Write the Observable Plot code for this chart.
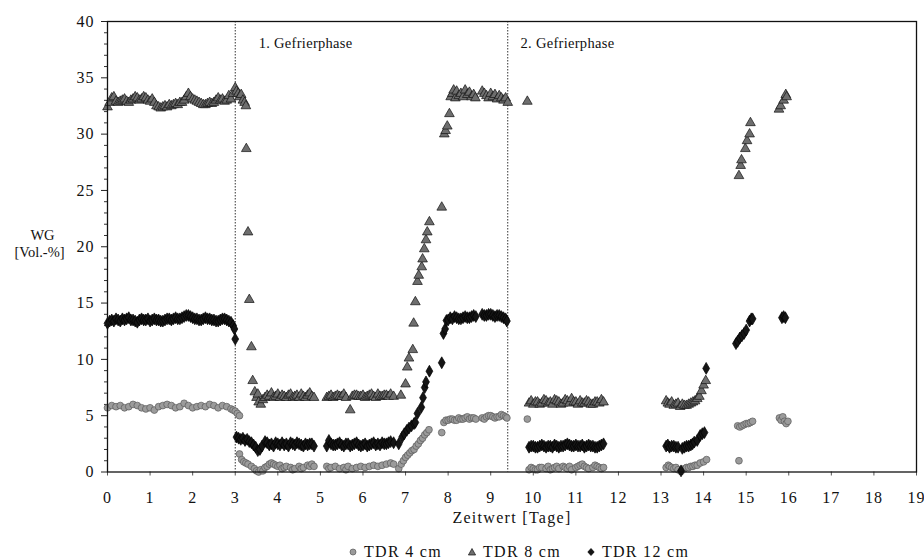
<!DOCTYPE html>
<html>
<head>
<meta charset="utf-8">
<script src="https://cdn.jsdelivr.net/npm/d3@7"></script>
<script src="https://cdn.jsdelivr.net/npm/@observablehq/plot@0.6"></script>
<style>
  html, body { margin: 0; padding: 0; background: #fff; }
  #wrap { position: relative; width: 924px; height: 560px; font-family: "Liberation Serif", "Times New Roman", Tinos, "Noto Serif", "DejaVu Serif", serif; }
  #wrap svg text { font-family: "Liberation Serif", "Times New Roman", Tinos, "Noto Serif", "DejaVu Serif", serif; }
  #legend { position: absolute; left: 348px; top: 543px; display: flex; align-items: center; font-size: 16px; letter-spacing: 1.3px; color: #111; white-space: nowrap; }
  #legend .item { display: flex; align-items: center; margin-right: 25px; }
  #legend svg { margin-right: 6px; }
</style>
</head>
<body>
<div id="wrap"></div>
<script>
// ---- Data (time in days, water content in Vol.-%) ----
const seriesNames = ["TDR 4 cm", "TDR 8 cm", "TDR 12 cm"];

const tdr4 = [
  [0.0,5.7],[0.1,5.9],[0.2,5.8],[0.3,5.9],[0.4,5.7],[0.5,5.8],[0.6,6.0],[0.7,5.9],[0.8,5.7],[0.9,5.6],
  [1.0,5.7],[1.1,5.5],[1.2,5.8],[1.3,5.9],[1.4,6.0],[1.5,5.9],[1.6,5.7],[1.7,5.8],[1.8,6.1],[1.9,5.9],
  [2.0,5.7],[2.1,5.8],[2.2,5.9],[2.3,5.8],[2.4,6.0],[2.5,5.9],[2.6,5.7],[2.7,5.9],[2.8,5.8],[2.9,5.6],
  [2.95,5.5],[3.0,5.4],[3.05,5.2],[3.1,5.0],
  [3.1,1.6],[3.15,1.1],[3.2,0.9],[3.25,0.8],[3.3,0.7],[3.38,0.5],[3.45,0.3],[3.5,0.1],[3.55,0.0],[3.6,0.2],
  [3.65,0.1],[3.7,0.4],[3.75,0.5],[3.8,0.7],[3.85,0.8],[3.9,0.7],[3.95,0.6],[4.0,0.5],[4.05,0.6],[4.1,0.3],
  [4.15,0.4],[4.2,0.5],[4.3,0.4],[4.35,0.2],[4.4,0.3],[4.5,0.5],[4.55,0.3],[4.6,0.4],[4.7,0.6],[4.75,0.5],
  [4.8,0.7],[4.85,0.5],
  [5.15,0.5],[5.2,0.3],[5.25,0.4],[5.35,0.5],[5.45,0.3],[5.55,0.4],[5.6,0.2],[5.65,0.5],[5.75,0.3],[5.85,0.4],
  [5.95,0.5],[6.05,0.4],[6.15,0.5],[6.25,0.6],[6.35,0.5],[6.45,0.6],[6.55,0.7],[6.65,0.8],[6.72,0.7],
  [6.84,0.3],[6.9,0.7],[6.95,1.0],[7.0,1.3],[7.05,1.5],[7.1,1.7],[7.15,1.9],[7.2,2.0],[7.25,2.3],[7.3,2.5],
  [7.35,2.8],[7.4,3.0],[7.45,3.3],[7.5,3.5],[7.55,3.75],
  [7.85,3.5],[7.9,4.4],[7.95,4.6],[8.0,4.6],[8.05,4.7],[8.1,4.7],[8.15,4.6],[8.2,4.6],[8.25,4.8],[8.3,4.7],
  [8.35,4.7],[8.4,4.8],[8.45,4.9],[8.5,4.7],[8.55,4.8],[8.6,4.8],[8.65,4.7],
  [8.8,4.8],[8.85,4.7],[8.9,4.9],[8.95,5.0],[9.0,5.0],[9.05,4.9],[9.1,4.8],[9.15,4.9],[9.2,4.9],[9.25,5.1],
  [9.3,5.0],[9.35,4.9],[9.38,4.8],
  [9.86,4.7],
  [9.9,0.2],[9.95,0.4],[10.0,0.3],[10.05,0.2],[10.1,0.2],[10.15,0.4],[10.2,0.4],[10.3,0.3],[10.35,0.5],[10.4,0.2],
  [10.45,0.3],[10.5,0.4],[10.55,0.5],[10.6,0.3],[10.7,0.5],[10.75,0.4],[10.8,0.3],[10.85,0.5],[10.9,0.2],[11.0,0.4],
  [11.05,0.5],[11.1,0.6],[11.15,0.7],[11.2,0.5],[11.25,0.4],[11.3,0.3],[11.4,0.4],[11.45,0.6],[11.5,0.5],[11.55,0.4],
  [11.6,0.3],[11.65,0.4],
  [13.12,0.4],[13.17,0.6],[13.2,0.5],[13.25,0.4],[13.3,0.3],[13.35,0.4],[13.4,0.2],[13.47,0.05],[13.55,0.3],[13.6,0.4],
  [13.65,0.4],[13.7,0.5],[13.75,0.5],[13.8,0.6],[13.85,0.6],[13.92,0.8],[14.0,0.9],[14.07,1.1],
  [14.83,1.0],
  [14.8,4.1],[14.85,4.0],[14.9,4.1],[14.95,4.2],[15.0,4.3],[15.05,4.3],[15.1,4.4],[15.15,4.5],
  [15.78,4.8],[15.82,4.6],[15.86,4.9],[15.9,4.5],[15.94,4.3],[15.98,4.5]
];

const tdr8 = [
  [0.0,32.4],[0.05,32.8],[0.1,33.2],[0.15,33.3],[0.2,32.9],[0.25,32.8],[0.3,32.9],[0.35,33.0],[0.4,33.1],[0.45,32.9],
  [0.5,32.8],[0.55,33.0],[0.6,33.1],[0.65,33.3],[0.7,33.2],[0.75,33.0],[0.8,33.1],[0.85,33.3],[0.9,33.2],[0.95,33.0],
  [1.0,32.9],[1.05,33.1],[1.1,32.8],[1.15,32.5],[1.2,32.4],[1.25,32.3],[1.3,32.4],[1.35,32.5],[1.4,32.4],[1.45,32.6],
  [1.5,32.5],[1.55,32.6],[1.6,32.7],[1.65,32.6],[1.7,32.8],[1.75,32.8],[1.8,33.0],[1.85,33.3],[1.9,33.6],[1.95,33.3],
  [2.0,33.1],[2.05,33.0],[2.1,32.9],[2.15,32.8],[2.2,32.7],[2.25,32.6],[2.3,32.6],[2.35,32.7],[2.4,32.8],[2.45,32.7],
  [2.5,32.8],[2.55,33.0],[2.6,33.2],[2.65,33.0],[2.7,33.1],[2.75,32.9],[2.8,33.0],[2.85,33.4],[2.9,33.1],[2.95,33.6],
  [3.0,34.1],[3.03,33.8],[3.07,33.6],[3.1,33.3],[3.14,33.5],[3.18,33.0],[3.22,32.8],[3.25,32.5],
  [3.26,28.7],[3.3,21.3],[3.33,15.3],[3.38,11.1],[3.41,8.1],[3.46,7.1],
  [3.5,6.6],[3.53,6.9],[3.55,6.2],[3.6,6.0],[3.65,6.4],[3.7,6.6],[3.75,6.8],[3.8,6.7],[3.85,7.0],[3.9,6.6],
  [3.95,6.7],[4.0,6.9],[4.05,6.6],[4.1,6.8],[4.15,6.7],[4.2,6.6],[4.25,6.8],[4.3,6.9],[4.35,6.6],[4.4,6.7],
  [4.45,6.8],[4.5,6.6],[4.55,6.9],[4.6,6.7],[4.65,6.6],[4.7,6.8],[4.75,7.0],[4.8,6.7],[4.85,6.6],
  [5.15,6.6],[5.2,6.7],[5.25,6.8],[5.3,6.6],[5.35,6.7],[5.4,6.8],[5.45,6.7],[5.5,6.7],[5.55,6.9],[5.6,6.6],
  [5.7,5.5],[5.75,6.7],[5.8,6.8],[5.85,6.8],[5.9,6.7],[5.95,6.7],[6.0,6.8],[6.05,6.6],[6.1,6.7],[6.15,6.8],
  [6.2,6.9],[6.25,6.7],[6.3,6.6],[6.35,6.9],[6.4,6.7],[6.45,6.7],[6.5,6.8],[6.55,6.8],[6.6,6.7],[6.65,6.9],[6.72,6.7],
  [6.89,6.8],[7.0,7.8],[7.04,9.3],[7.08,10.1],[7.17,10.85],[7.19,13.2],[7.23,15.1],[7.28,16.9],[7.31,17.45],[7.38,18.2],
  [7.4,18.9],[7.44,19.8],[7.48,20.6],[7.51,21.3],[7.56,22.2],[7.85,23.5],[7.91,30.0],[7.94,30.3],[7.98,30.7],[8.03,31.8],
  [8.06,33.3],[8.1,33.6],[8.13,33.9],[8.17,33.2],[8.2,33.8],[8.25,33.4],[8.3,33.6],[8.35,33.3],[8.4,33.9],[8.45,33.5],
  [8.5,33.7],[8.55,33.3],[8.6,33.5],[8.64,33.2],
  [8.8,33.8],[8.85,33.6],[8.9,33.4],[8.95,33.2],[9.0,33.6],[9.05,33.3],[9.1,33.5],[9.15,33.1],[9.2,33.4],[9.25,33.2],
  [9.3,33.0],[9.35,33.2],[9.4,32.8],
  [9.86,32.9],
  [9.9,6.1],[9.95,6.3],[10.0,6.0],[10.05,6.2],[10.1,6.2],[10.15,6.0],[10.2,6.1],[10.25,6.4],[10.3,6.3],[10.35,6.1],
  [10.4,6.2],[10.45,6.0],[10.5,6.4],[10.55,6.3],[10.6,6.2],[10.65,6.0],[10.7,6.1],[10.75,6.4],[10.8,6.3],[10.85,6.1],
  [10.9,6.5],[10.95,6.2],[11.0,6.2],[11.05,6.0],[11.1,6.3],[11.15,6.1],[11.2,6.1],[11.25,6.3],[11.3,6.2],[11.35,6.0],
  [11.4,6.0],[11.45,6.2],[11.5,6.2],[11.55,6.1],[11.6,6.4],[11.65,6.2],
  [13.12,6.3],[13.16,6.1],[13.2,6.0],[13.25,6.2],[13.3,5.9],[13.35,6.0],[13.4,6.1],[13.45,5.8],[13.5,6.0],[13.55,5.9],
  [13.6,5.9],[13.65,6.0],[13.7,6.1],[13.75,6.2],[13.8,6.3],[13.85,6.5],[13.9,6.7],[13.95,7.2],[14.0,7.7],[14.05,8.1],
  [14.83,26.3],[14.87,27.2],[14.89,27.7],[14.98,28.7],[15.02,29.4],[15.08,30.0],[15.1,31.0],
  [15.77,32.2],[15.81,32.5],[15.88,33.0],[15.93,33.5],[15.95,33.3]
];

const tdr12 = [
  [0.0,13.2],[0.05,13.4],[0.1,13.5],[0.15,13.4],[0.2,13.6],[0.25,13.5],[0.3,13.4],[0.35,13.6],[0.4,13.5],[0.45,13.6],
  [0.5,13.7],[0.55,13.5],[0.6,13.5],[0.65,13.4],[0.7,13.3],[0.75,13.5],[0.8,13.6],[0.85,13.5],[0.9,13.5],[0.95,13.6],
  [1.0,13.4],[1.05,13.5],[1.1,13.6],[1.15,13.5],[1.2,13.5],[1.25,13.4],[1.3,13.4],[1.35,13.5],[1.4,13.6],[1.45,13.6],
  [1.5,13.5],[1.55,13.6],[1.6,13.7],[1.65,13.6],[1.7,13.6],[1.75,13.7],[1.8,13.8],[1.85,13.9],[1.9,13.9],[1.95,13.8],
  [2.0,13.7],[2.05,13.6],[2.1,13.6],[2.15,13.5],[2.2,13.5],[2.25,13.6],[2.3,13.7],[2.35,13.6],[2.4,13.6],[2.45,13.5],
  [2.5,13.5],[2.55,13.4],[2.6,13.4],[2.65,13.5],[2.7,13.6],[2.75,13.6],[2.8,13.5],[2.85,13.4],[2.9,13.3],[2.95,13.0],
  [2.98,12.7],[3.0,11.8],
  [3.03,3.1],[3.08,3.0],[3.13,2.9],[3.18,3.0],[3.23,2.8],[3.28,2.9],[3.33,2.7],[3.38,2.6],[3.43,2.4],[3.48,2.2],
  [3.53,1.9],[3.58,2.0],[3.63,2.3],[3.7,2.7],[3.75,2.6],[3.8,2.4],[3.85,2.5],[3.9,2.3],[3.95,2.6],[4.0,2.5],
  [4.05,2.4],[4.1,2.6],[4.15,2.4],[4.2,2.5],[4.25,2.3],[4.3,2.6],[4.35,2.5],[4.4,2.4],[4.45,2.6],[4.5,2.5],
  [4.55,2.4],[4.6,2.3],[4.65,2.5],[4.7,2.4],[4.75,2.5],[4.8,2.5],[4.85,2.3],
  [5.15,2.3],[5.2,2.8],[5.25,2.5],[5.3,2.4],[5.35,2.4],[5.4,2.5],[5.45,2.6],[5.5,2.4],[5.55,2.3],[5.6,2.5],
  [5.65,2.5],[5.7,2.3],[5.75,2.4],[5.8,2.5],[5.85,2.6],[5.9,2.4],[5.95,2.3],[6.0,2.4],[6.05,2.5],[6.1,2.3],
  [6.15,2.4],[6.2,2.5],[6.25,2.6],[6.3,2.4],[6.35,2.5],[6.4,2.4],[6.45,2.6],[6.5,2.5],[6.55,2.5],[6.6,2.6],
  [6.65,2.7],[6.72,2.6],
  [6.84,2.5],[6.92,3.1],[6.97,3.4],[7.03,3.7],[7.08,3.9],[7.14,4.1],[7.2,4.3],[7.23,4.4],[7.28,5.2],[7.37,5.75],
  [7.41,6.6],[7.45,7.5],[7.48,8.0],[7.56,8.95],[7.85,9.7],[7.89,12.3],[7.93,12.7],[7.96,13.45],
  [8.0,13.5],[8.05,13.7],[8.1,13.6],[8.15,13.8],[8.2,13.7],[8.25,13.6],[8.3,13.6],[8.35,13.7],[8.4,13.8],[8.45,13.7],
  [8.5,13.7],[8.55,13.8],[8.6,13.9],[8.65,13.8],
  [8.8,14.0],[8.85,13.9],[8.9,13.9],[8.95,14.0],[9.0,14.0],[9.05,13.9],[9.1,13.8],[9.15,13.9],[9.2,13.9],[9.25,13.8],
  [9.3,13.7],[9.35,13.6],[9.38,13.4],
  [9.9,2.2],[9.95,2.3],[10.0,2.3],[10.05,2.2],[10.1,2.2],[10.15,2.3],[10.2,2.4],[10.25,2.3],[10.3,2.2],[10.35,2.3],
  [10.4,2.3],[10.45,2.2],[10.5,2.4],[10.55,2.3],[10.6,2.2],[10.65,2.3],[10.7,2.3],[10.75,2.4],[10.8,2.5],[10.85,2.4],
  [10.9,2.3],[10.95,2.3],[11.0,2.4],[11.05,2.3],[11.1,2.3],[11.15,2.4],[11.2,2.2],[11.25,2.3],[11.3,2.4],[11.35,2.3],
  [11.4,2.3],[11.45,2.2],[11.5,2.2],[11.55,2.3],[11.6,2.4],[11.65,2.5],
  [13.12,2.3],[13.16,2.4],[13.2,2.2],[13.25,2.3],[13.3,2.3],[13.35,2.2],[13.4,2.2],[13.47,0.1],[13.5,2.1],[13.55,2.2],
  [13.6,2.3],[13.65,2.3],[13.7,2.4],[13.74,2.5],[13.78,2.65],[13.85,2.8],[13.92,3.25],[13.97,3.4],[14.02,3.5],[14.06,9.2],
  [14.76,11.4],[14.8,11.6],[14.85,11.9],[14.9,12.1],[14.95,12.3],[15.0,12.6],[15.08,13.4],[15.12,13.6],[15.15,13.6],
  [15.84,13.7],[15.88,13.8],[15.92,13.7]
];

const xTicks = [0,1,2,3,4,5,6,7,8,9,10,11,12,13,14,15,16,17,18,19];
const yTicks = [0,5,10,15,20,25,30,35,40];
const yMinorTicks = [1,2,3,4,6,7,8,9,11,12,13,14,16,17,18,19,21,22,23,24,26,27,28,29,31,32,33,34,36,37,38,39];
const phaseLines = [3.0, 9.4];
const phaseLabels = [
  {x: 3.55, y: 38.1, text: "1. Gefrierphase"},
  {x: 9.7, y: 38.1, text: "2. Gefrierphase"}
];
const xLabel = "Zeitwert [Tage]";
const yLabelLines = ["WG", "[Vol.-%]"];

// ---- Styles per series ----
const styles = {
  "TDR 4 cm":  {symbol: "circle",   fill: "#9b9b9b", stroke: "#5a5a5a", r: 3.4},
  "TDR 8 cm":  {symbol: "triangle", fill: "#6e6e6e", stroke: "#111",    r: 3.6},
  "TDR 12 cm": {symbol: "diamond",  fill: "#151515", stroke: "#000",    r: 3.6}
};

const toRows = (arr, name) => arr.map(([t, v]) => ({t, v, name}));
const rows = {
  "TDR 4 cm": toRows(tdr4, "TDR 4 cm"),
  "TDR 8 cm": toRows(tdr8, "TDR 8 cm"),
  "TDR 12 cm": toRows(tdr12, "TDR 12 cm")
};

const font = '"Liberation Serif", "Times New Roman", Tinos, "Noto Serif", "DejaVu Serif", serif';

const dotMarks = seriesNames.map(n => Plot.dot(rows[n], {
  x: "t", y: "v", symbol: () => styles[n].symbol, r: styles[n].r,
  fill: styles[n].fill, stroke: styles[n].stroke, strokeWidth: 0.7
}));

const chart = Plot.plot({
  width: 924,
  height: 538,
  marginLeft: 107,
  marginRight: 8,
  marginTop: 21,
  marginBottom: 66.5,
  style: {fontFamily: font, fontSize: "15px", color: "#111", background: "white"},
  x: {domain: [0, 19]},
  y: {domain: [0, 40]},
  symbol: {type: "identity"},
  marks: [
    Plot.axisY(yMinorTicks, {tickSize: 3, text: null, stroke: "#333"}),
    Plot.axisY(yTicks, {tickSize: 6, tickPadding: 7, label: null, fontSize: 16, stroke: "#222"}),
    Plot.axisX(xTicks, {tickSize: 4, tickPadding: 16, label: null, fontSize: 16, stroke: "#555"}),
    Plot.ruleX(phaseLines, {stroke: "#333", strokeWidth: 1, strokeDasharray: "1.5,1.5"}),
    Plot.text(phaseLabels, {x: "x", y: "y", text: "text", textAnchor: "start", fontSize: 14.5, fill: "#111"}),
    ...dotMarks,
    Plot.frame({stroke: "#111", strokeWidth: 1.3}),
    Plot.text([xLabel], {frameAnchor: "bottom", dy: 51, fontSize: 16, fill: "#111"}),
    Plot.text([yLabelLines[0]], {frameAnchor: "left", dx: -65, dy: -11, fontSize: 14.5, textAnchor: "middle", fill: "#111"}),
    Plot.text([yLabelLines[1]], {frameAnchor: "left", dx: -68, dy: 6, fontSize: 14.5, textAnchor: "middle", fill: "#111"})
  ]
});

// letter spacing to match the wide, scanned serif type
d3.select(chart).selectAll("text").each(function() {
  const t = this.textContent;
  if (t === xLabel) d3.select(this).style("letter-spacing", "1.3px");
  else if (t === "1. Gefrierphase" || t === "2. Gefrierphase") d3.select(this).style("letter-spacing", "0.3px");
  else if (/^\d+$/.test(t)) d3.select(this).style("letter-spacing", "1px");
});

const wrap = document.getElementById("wrap");
wrap.appendChild(chart);

// ---- Legend below the chart ----
const legend = document.createElement("div");
legend.id = "legend";
const icon = {
  "circle": '<circle cx="5" cy="5" r="3" fill="#9b9b9b" stroke="#5a5a5a" stroke-width="0.7"/>',
  "triangle": '<path d="M5,1.5 L8.6,8 L1.4,8 Z" fill="#6e6e6e" stroke="#111" stroke-width="0.7"/>',
  "diamond": '<path d="M5,1.5 L8.2,5 L5,8.5 L1.8,5 Z" fill="#151515" stroke="#000" stroke-width="0.7"/>'
};
for (const n of seriesNames) {
  const item = document.createElement("span");
  item.className = "item";
  item.innerHTML = `<svg width="10" height="10" viewBox="0 0 10 10">${icon[styles[n].symbol]}</svg><span>${n}</span>`;
  legend.appendChild(item);
}
wrap.appendChild(legend);
</script>
</body>
</html>
